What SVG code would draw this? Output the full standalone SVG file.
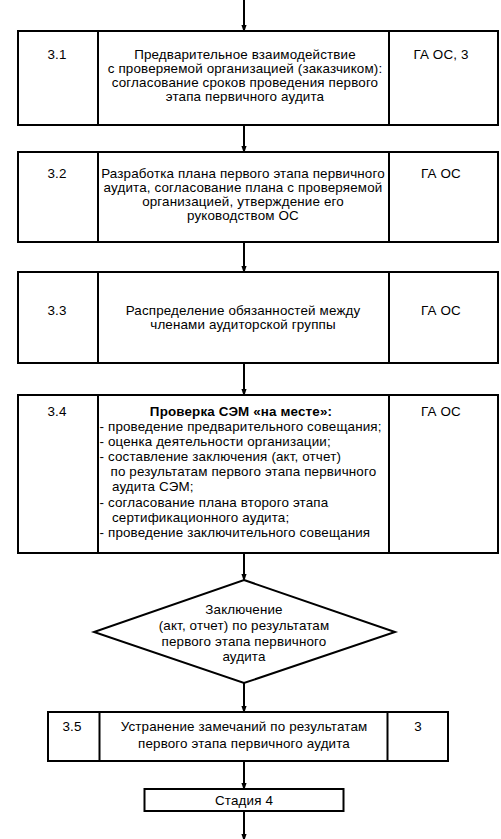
<svg xmlns="http://www.w3.org/2000/svg" width="501" height="839" viewBox="0 0 501 839">
<defs>
<marker id="ah" markerWidth="8" markerHeight="12" refX="8" refY="4" orient="auto" markerUnits="userSpaceOnUse" viewBox="0 0 12 8">
<path d="M0,0 L12,4 L0,8 Z" fill="#000"/>
</marker>
<style>
.b{fill:#fff;stroke:#000;stroke-width:2}
.d{stroke:#000;stroke-width:2}
.c{stroke:#000;stroke-width:2;fill:none;marker-end:url(#ah)}
text{font-family:"Liberation Sans",Arial,sans-serif;font-size:13.4px;letter-spacing:0.15px;fill:#000}
.m{text-anchor:middle}
.t{font-weight:bold}
</style>
</defs>
<rect width="501" height="839" fill="#fff"/>
<g id="connectors">
<line class="c" x1="244" y1="0" x2="244" y2="30"/>
<line class="c" x1="244" y1="125" x2="244" y2="151"/>
<line class="c" x1="244" y1="242" x2="244" y2="271"/>
<line class="c" x1="244" y1="363" x2="244" y2="394"/>
<line class="c" x1="244" y1="553" x2="244" y2="579"/>
<line class="c" x1="244" y1="683" x2="244" y2="711"/>
<line class="c" x1="244" y1="761" x2="244" y2="788"/>
<line class="c" x1="244" y1="811" x2="244" y2="839"/>
</g>
<g id="n31">
<rect class="b" x="18" y="31" width="480" height="94"/>
<line class="d" x1="98" y1="31" x2="98" y2="125"/>
<line class="d" x1="389" y1="31" x2="389" y2="125"/>
<text class="m" x="57" y="59">3.1</text>
<text class="m" x="245" y="59">Предварительное взаимодействие</text>
<text class="m" x="245" y="73">с проверяемой организацией (заказчиком):</text>
<text class="m" x="245" y="87">согласование сроков проведения первого</text>
<text class="m" x="245" y="101">этапа первичного аудита</text>
<text class="m" x="441" y="59">ГА ОС, 3</text>
</g>
<g id="n32">
<rect class="b" x="18" y="152" width="480" height="90"/>
<line class="d" x1="98" y1="152" x2="98" y2="242"/>
<line class="d" x1="389" y1="152" x2="389" y2="242"/>
<text class="m" x="57" y="177.5">3.2</text>
<text class="m" x="243" y="177.5">Разработка плана первого этапа первичного</text>
<text class="m" x="243" y="191.5">аудита, согласование плана с проверяемой</text>
<text class="m" x="243" y="205.5">организацией, утверждение его</text>
<text class="m" x="243" y="219.5">руководством ОС</text>
<text class="m" x="441" y="177.5">ГА ОС</text>
</g>
<g id="n33">
<rect class="b" x="18" y="272" width="480" height="91"/>
<line class="d" x1="98" y1="272" x2="98" y2="363"/>
<line class="d" x1="389" y1="272" x2="389" y2="363"/>
<text class="m" x="57" y="314.5">3.3</text>
<text class="m" x="243" y="314.5">Распределение обязанностей между</text>
<text class="m" x="243" y="328.5">членами аудиторской группы</text>
<text class="m" x="441" y="314.5">ГА ОС</text>
</g>
<g id="n34">
<rect class="b" x="18" y="395" width="480" height="158"/>
<line class="d" x1="98" y1="395" x2="98" y2="553"/>
<line class="d" x1="389" y1="395" x2="389" y2="553"/>
<text class="m" x="57" y="416">3.4</text>
<text class="m t" x="241" y="416">Проверка СЭМ «на месте»:</text>
<text x="99.5" y="431">- проведение предварительного совещания;</text>
<text x="99.5" y="446">- оценка деятельности организации;</text>
<text x="99.5" y="461">- составление заключения (акт, отчет)</text>
<text x="110.5" y="476">по результатам первого этапа первичного</text>
<text x="112" y="491">аудита СЭМ;</text>
<text x="99.5" y="507">- согласование плана второго этапа</text>
<text x="112" y="522">сертификационного аудита;</text>
<text x="99.5" y="537">- проведение заключительного совещания</text>
<text class="m" x="441" y="416">ГА ОС</text>
</g>
<g id="n_decision">
<polygon class="b" points="244,580 395,632 244,683 94,632"/>
<text class="m" x="244" y="614">Заключение</text>
<text class="m" x="244" y="630">(акт, отчет) по результатам</text>
<text class="m" x="244" y="645.5">первого этапа первичного</text>
<text class="m" x="244" y="661">аудита</text>
</g>
<g id="n35">
<rect class="b" x="48" y="712" width="400" height="49"/>
<line class="d" x1="99.5" y1="712" x2="99.5" y2="761"/>
<line class="d" x1="387.5" y1="712" x2="387.5" y2="761"/>
<text class="m" x="72" y="731">3.5</text>
<text class="m" x="244" y="731">Устранение замечаний по результатам</text>
<text class="m" x="244" y="747.5">первого этапа первичного аудита</text>
<text class="m" x="418" y="731">3</text>
</g>
<g id="n_stage4">
<rect class="b" x="144.5" y="789" width="199" height="22"/>
<text class="m" x="244" y="804.5">Стадия 4</text>
</g>
</svg>
